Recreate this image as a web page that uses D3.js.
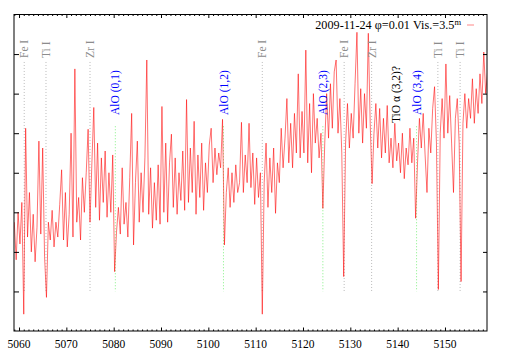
<!DOCTYPE html>
<head>
  <meta charset="utf-8">
  <script src="https://d3js.org/d3.v7.min.js"></script>
  <style>
    body { margin:0; background:#fff; }
    text { font-family: "Liberation Serif", "DejaVu Serif", serif; }
    .axis path, .axis line { stroke: #000; }
  </style>
</head>

<body>
  <svg width="509" height="356"></svg>
  <script>
    var wlStart = 5059.0, wlStep = 0.4;
    var flux = [
      110, 72,120, 88,130, 17,205, 95,140, 80,118, 70,105,192, 98,185, 75, 34,110, 92,
      122, 85,110, 95,128,163, 92,140, 85,118,200, 95,265,110,135, 92,155,120,160,204,
      110,170,226,125,190,112,175,130,182,115,160,120,178, 60,100,125, 98,165,108,130,
       95,155,220, 87,150,192,110,160,120,175,274,118,165,104,150,112,168,108,227,120,
      190,110,170,199,125,175,118,160,132,182,122,234,130,185,140,212,118,178,135,190,
      122,170,140,188,205,150,185,158,180,165,214, 87,140,165,125,160,130,168,140,150,
      211,140,178,150,210,145,180,128,175,135,160, 17,150,190,125,175,140,185,119,170,
      150,205,165,195,235,170,210,165,220,180,260,175,222,180,284,170,230,160,240,190,
      215,175,200,124,190,240,195,250,205,262,274,200,235,180, 55,190,230,185,220,195,
      250,302,200,245,190,240,205,301,210,149,200,230,185,225,175,215,180,228,170,195,
      165,210,172,190,160,200,154,185,168,205,170,195,114,170,215,185,220,178,140,205,
      180,225,247,190, 42,200,235,195,270,200,238,190,140,215,235,190, 50,210,240,205,
      235,215,255,210,245,220,260,230,282,240,262
    ];

    var xTicks = [5060, 5070, 5080, 5090, 5100, 5110, 5120, 5130, 5140, 5150];
    var yTicks = [40, 80, 120, 160, 200, 240, 280];

    // identified lines
    var lineWl   = [5061.1, 5065.7, 5075.0, 5080.35, 5103.2, 5111.4, 5124.2, 5128.7, 5134.5, 5144.0, 5148.5, 5153.2];
    var lineName = ["Fe I", "Ti I", "Zr I", "AlO (0,1)", "AlO (1,2)", "Fe I", "AlO (2,3)", "Fe I", "Zr I", "AlO (3,4)", "Ti I", "Ti I"];
    var lineKind = ["atom", "atom", "atom", "mol", "mol", "atom", "mol", "atom", "atom", "mol", "atom", "atom"];
    var tioWl = 5139.7, tioName = "TiO \u03b1 (3,2)?";
    var legendText = "2009-11-24 \u03c6=0.01 Vis.=3.5";

    var margin = {top: 14.5, right: 22, bottom: 25, left: 14};
    var W = 509 - margin.left - margin.right,
        H = 356 - margin.top - margin.bottom;

    var svg = d3.select("svg");
    var g = svg.append("g").attr("transform", "translate(" + margin.left + "," + margin.top + ")");

    var x = d3.scaleLinear().domain([5058.94, 5158.88]).range([0, W]);
    var y = d3.scaleLinear().domain([0, 320]).range([H, 0]);

    var data = flux.map(function(v, i) { return {wl: wlStart + i * wlStep, f: v}; });

    g.append("clipPath").attr("id", "clip")
      .append("rect").attr("width", W).attr("height", H);

    // marker lines
    var style = {
      atom: {color: "#8c8c8c", dash: "#aaaaaa", top: 272, label: 58},
      mol:  {color: "#0000ff", dash: "#66ee66", top: 207, label: 115}
    };
    lineWl.forEach(function(wl, i) {
      var s = style[lineKind[i]];
      g.append("line")
        .attr("x1", x(wl)).attr("x2", x(wl))
        .attr("y1", y(s.top)).attr("y2", y(40))
        .attr("stroke", s.dash).attr("stroke-width", 0.8)
        .attr("stroke-dasharray", "1,2");
    });

    var line = d3.line()
      .x(function(d) { return x(d.wl); })
      .y(function(d) { return y(d.f); });

    g.append("path")
      .datum(data)
      .attr("clip-path", "url(#clip)")
      .attr("d", line)
      .attr("fill", "none")
      .attr("stroke", "#ff0000")
      .attr("stroke-opacity", 0.7)
      .attr("stroke-width", 0.8);

    lineWl.forEach(function(wl, i) {
      var s = style[lineKind[i]];
      g.append("text")
        .attr("transform", "translate(" + x(wl) + "," + (s.label - margin.top) + ") rotate(-90)")
        .attr("dy", "0.35em")
        .attr("font-size", "11.5px")
        .attr("fill", s.color)
        .text(lineName[i]);
    });

    g.append("text")
      .attr("transform", "translate(" + x(tioWl) + "," + (123 - margin.top) + ") rotate(-90)")
      .attr("dy", "0.35em")
      .attr("font-size", "11.5px")
      .attr("fill", "#000")
      .text(tioName);

    // axes: ticks inside on all four sides
    var minor = d3.range(5059, 5159, 1).filter(function(v) { return v % 10 !== 0; });

    function xAxis(gen, tr) {
      var a = g.append("g").attr("class", "axis").attr("transform", tr);
      a.call(gen.tickValues(minor).tickSize(1.5).tickFormat(""));
      a.selectAll(".domain").remove();
      var b = g.append("g").attr("class", "axis").attr("transform", tr);
      b.call(gen.tickValues(xTicks).tickSize(3.5).tickFormat(""));
      b.selectAll(".domain").remove();
      return b;
    }
    xAxis(d3.axisTop(x), "translate(0," + H + ")");
    xAxis(d3.axisBottom(x), "translate(0,0)");

    g.append("g").selectAll("text")
      .data(xTicks).enter().append("text")
      .attr("x", function(d) { return x(d); })
      .attr("y", H + 17)
      .attr("text-anchor", "middle")
      .attr("font-size", "11.5px")
      .text(function(d) { return d; });

    var yl = g.append("g").attr("class", "axis")
      .call(d3.axisRight(y).tickValues(yTicks).tickSize(5).tickFormat(""));
    yl.selectAll(".domain").remove();
    var yr = g.append("g").attr("class", "axis").attr("transform", "translate(" + W + ",0)")
      .call(d3.axisLeft(y).tickValues(yTicks).tickSize(4).tickFormat(""));
    yr.selectAll(".domain").remove();

    g.append("rect")
      .attr("width", W).attr("height", H)
      .attr("fill", "none").attr("stroke", "#000").attr("stroke-width", 1);

    // legend
    var lg = g.append("text")
      .attr("x", 461 - margin.left)
      .attr("y", 29 - margin.top)
      .attr("text-anchor", "end")
      .attr("font-size", "12.2px")
      .text(legendText);
    lg.append("tspan").attr("dy", "-4").attr("font-size", "8.5px").text("m");

    g.append("line")
      .attr("x1", 467 - margin.left).attr("x2", 474 - margin.left)
      .attr("y1", 25 - margin.top).attr("y2", 25 - margin.top)
      .attr("stroke", "#ff0000").attr("stroke-opacity", 0.6).attr("stroke-width", 0.8);
  </script>
</body>
